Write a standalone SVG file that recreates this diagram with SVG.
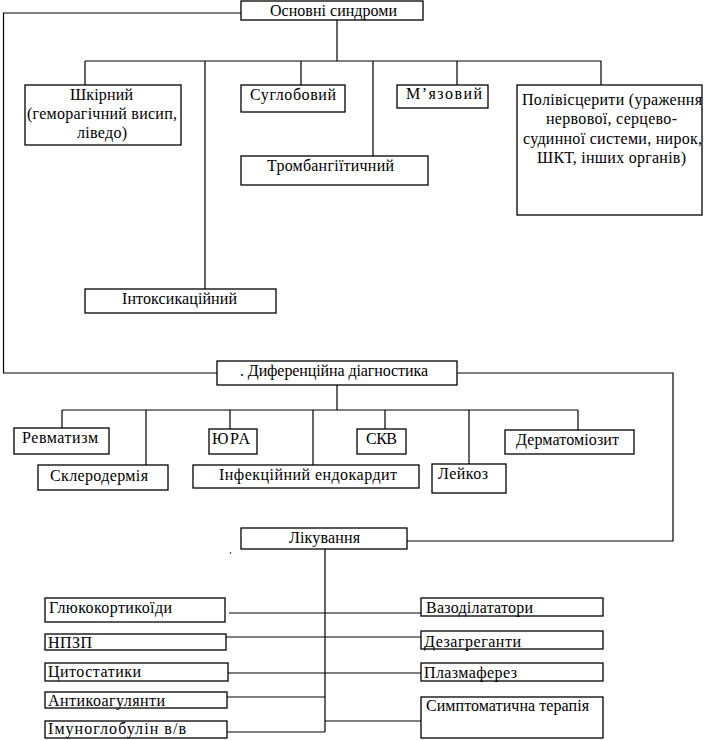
<svg xmlns="http://www.w3.org/2000/svg" width="705" height="740" viewBox="0 0 705 740">
<style>
rect.b{fill:#fff;stroke:#000;stroke-width:1.3}
text{font-family:"Liberation Serif","Times New Roman","DejaVu Serif",serif;font-size:16px;fill:#000}
.c path{fill:none;stroke:#000;stroke-width:1.2}
</style>
<rect width="705" height="740" fill="#fff"/>
<g class="c" id="connectors">
<path d="M241,13H3.5V373H217"/>
<path d="M337,20V61M85,61H601M85,61V85M205,61V289M301,61V85M373,61V156M457,61V85M601,61V85"/>
<path d="M457,373H673V541H407"/>
<path d="M337,385V410M62,410H578M62,410V428M146,410V465M230,410V429M313,410V465M385,410V429M469,410V464M578,410V430"/>
<path d="M325,549V732M229,613H421M226,637H421M228,673H421M227,697H325M325,721H421M227,732H325"/>
</g>
<circle cx="230.5" cy="553" r="0.8" fill="#000"/>
<g id="n1"><rect class="b" x="241" y="1" width="182" height="19"/><text x="270" y="16" textLength="127" lengthAdjust="spacing">Основні синдроми</text></g>
<g id="n2"><rect class="b" x="25" y="85" width="156" height="60"/><text x="70" y="100" textLength="63" lengthAdjust="spacing">Шкірний</text><text x="27" y="119" textLength="150" lengthAdjust="spacing">(геморагічний висип,</text><text x="77" y="138" textLength="50" lengthAdjust="spacing">ліведо)</text></g>
<g id="n3"><rect class="b" x="241" y="85" width="104" height="27"/><text x="250" y="100" textLength="86" lengthAdjust="spacing">Суглобовий</text></g>
<g id="n4"><rect class="b" x="397" y="85" width="91" height="23"/><text x="406" y="99" textLength="76" lengthAdjust="spacing">М’язовий</text></g>
<g id="n5"><rect class="b" x="517" y="85" width="185" height="130"/><text x="522" y="105" textLength="180" lengthAdjust="spacing">Полівісцерити (ураження</text><text x="546" y="124" textLength="131" lengthAdjust="spacing">нервової, серцево-</text><text x="523" y="144" textLength="179" lengthAdjust="spacing">судинної системи, нирок,</text><text x="537" y="163" textLength="149" lengthAdjust="spacing">ШКТ, інших органів)</text></g>
<g id="n6"><rect class="b" x="241" y="156" width="187" height="29"/><text x="267" y="171" textLength="127" lengthAdjust="spacing">Тромбангіїтичний</text></g>
<g id="n7"><rect class="b" x="85" y="289" width="191" height="24"/><text x="122" y="304" textLength="115" lengthAdjust="spacing">Інтоксикаційний</text></g>
<g id="n8"><rect class="b" x="217" y="361" width="240" height="24"/><text x="240" y="376" textLength="188" lengthAdjust="spacing">. Диференційна діагностика</text></g>
<g id="n9"><rect class="b" x="14" y="428" width="95" height="26"/><text x="22" y="443" textLength="76" lengthAdjust="spacing">Ревматизм</text></g>
<g id="n10"><rect class="b" x="38" y="465" width="130" height="25"/><text x="50" y="481" textLength="98" lengthAdjust="spacing">Склеродермія</text></g>
<g id="n11"><rect class="b" x="209" y="429" width="48" height="25"/><text x="212" y="444" textLength="38" lengthAdjust="spacing">ЮРА</text></g>
<g id="n12"><rect class="b" x="193" y="465" width="226" height="23"/><text x="219" y="480" textLength="178" lengthAdjust="spacing">Інфекційний ендокардит</text></g>
<g id="n13"><rect class="b" x="357" y="429" width="49" height="25"/><text x="366" y="444" textLength="31" lengthAdjust="spacing">СКВ</text></g>
<g id="n14"><rect class="b" x="432" y="464" width="74" height="29"/><text x="438" y="479" textLength="50" lengthAdjust="spacing">Лейкоз</text></g>
<g id="n15"><rect class="b" x="505" y="430" width="129" height="24"/><text x="516" y="445" textLength="103" lengthAdjust="spacing">Дерматоміозит</text></g>
<g id="n16"><rect class="b" x="241" y="528" width="166" height="21"/><text x="289" y="543" textLength="71" lengthAdjust="spacing">Лікування</text></g>
<g id="n17"><rect class="b" x="45" y="598" width="180" height="24"/><text x="49" y="613" textLength="123" lengthAdjust="spacing">Глюкокортикоїди</text></g>
<g id="n18"><rect class="b" x="45" y="634" width="181" height="16"/><text x="48" y="648" textLength="44" lengthAdjust="spacing">НПЗП</text></g>
<g id="n19"><rect class="b" x="45" y="663" width="183" height="18"/><text x="48" y="677" textLength="93" lengthAdjust="spacing">Цитостатики</text></g>
<g id="n20"><rect class="b" x="45" y="692" width="182" height="16"/><text x="48" y="706" textLength="117" lengthAdjust="spacing">Антикоагулянти</text></g>
<g id="n21"><rect class="b" x="45" y="721" width="182" height="17"/><text x="48" y="734" textLength="138" lengthAdjust="spacing">Імуноглобулін в/в</text></g>
<g id="n22"><rect class="b" x="421" y="598" width="182" height="18"/><text x="426" y="613" textLength="107" lengthAdjust="spacing">Вазоділататори</text></g>
<g id="n23"><rect class="b" x="421" y="631" width="182" height="18"/><text x="424" y="647" textLength="97" lengthAdjust="spacing">Дезагреганти</text></g>
<g id="n24"><rect class="b" x="421" y="663" width="182" height="18"/><text x="424" y="678" textLength="93" lengthAdjust="spacing">Плазмаферез</text></g>
<g id="n25"><rect class="b" x="421" y="697" width="182" height="41"/><text x="426" y="711" textLength="163" lengthAdjust="spacing">Симптоматична терапія</text></g>
</svg>
